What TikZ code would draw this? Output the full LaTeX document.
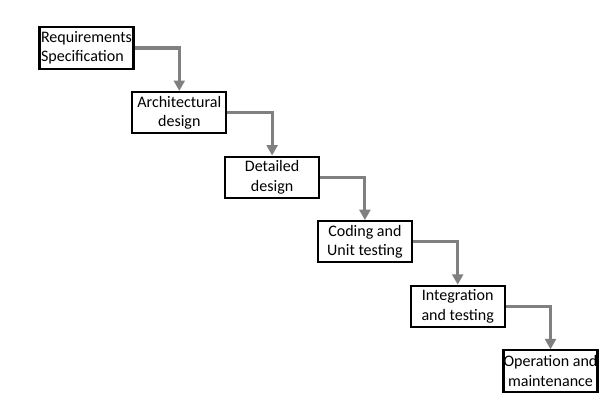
\documentclass[tikz,border=0pt]{standalone}
\usepackage{fontspec}
\setmainfont{Carlito}
\usetikzlibrary{arrows.meta}
\begin{document}
\begin{tikzpicture}[declare function={px=0.025; dx=92.8; dy=64.6; x0=86.5; y0=48;},line join=miter,
  every node/.style={font=\fontsize{11.4}{13.8}\selectfont},
  phasebox/.style={draw=black,line width=1.5pt,minimum width=2.35cm,minimum height=1.03cm,align=center,inner sep=0pt},
  flowarrow/.style={draw=gray,line width=2.2pt,-{Triangle[width=0.27cm,length=0.26cm]}}]
  \useasboundingbox (0,0) rectangle (600*px,-395*px);
  \foreach \i/\al/\txt in {0/left/{Requirements\\Specification},1/center/{Architectural\\design},2/center/{Detailed\\design},
                        3/center/{Coding and\\Unit testing},4/center/{Integration\\and testing},5/center/{Operation and\\maintenance}}{
    \node[phasebox,align=\al] (s\i) at ({(x0+\i*dx)*px},{-(y0+\i*dy)*px}) {\txt};
  }
  \foreach \i [evaluate=\i as \j using int(\i+1)] in {0,...,4}{
    \draw[flowarrow] (s\i.east) -| (s\j.north);
  }
\end{tikzpicture}
\end{document}
